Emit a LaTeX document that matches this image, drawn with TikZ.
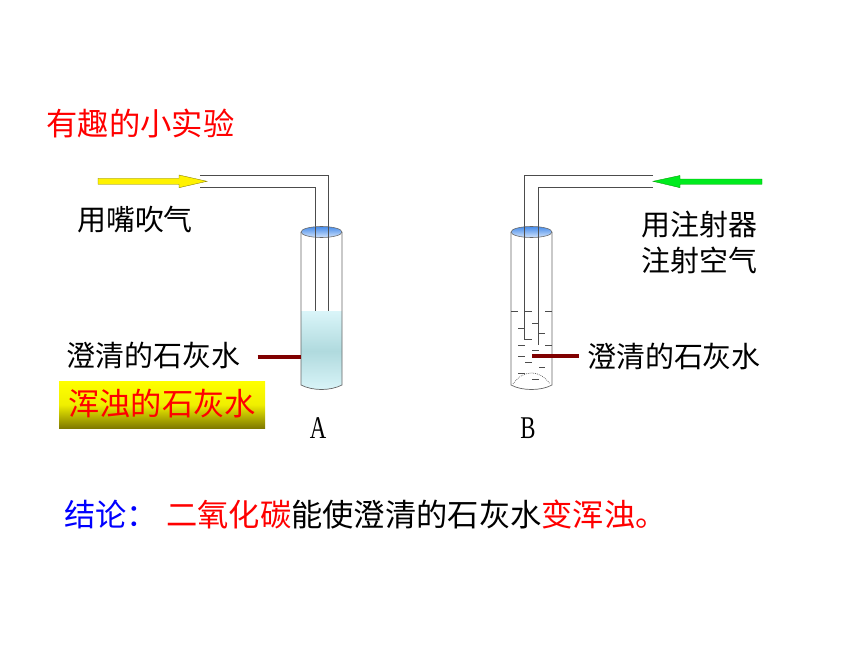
\documentclass[tikz,border=0pt]{standalone}
\usepackage{fontspec}
\setmainfont{Liberation Serif}
\newfontfamily\cjk{Noto Sans CJK SC}
\newfontfamily\narrowfont[FakeStretch=0.72]{Liberation Serif}
\usetikzlibrary{shadings}
\definecolor{liquid}{RGB}{218,245,249}
\definecolor{liquidmid}{RGB}{176,218,222}
\definecolor{darkred}{RGB}{128,0,0}
\definecolor{olivebar}{RGB}{128,122,0}
\definecolor{rimblue}{RGB}{70,140,235}
\definecolor{brightgreen}{RGB}{0,235,30}
\tikzset{
  lbl/.style={inner sep=0pt,font=\cjk\fontsize{24.7}{28}\selectfont},
  biglbl/.style={inner sep=0pt,font=\cjk\fontsize{26.7}{30}\selectfont},
  letter/.style={inner sep=0pt,font=\narrowfont\fontsize{27}{30}\selectfont},
  glass/.style={draw=black!60,line width=0.6pt},
  pipe/.style={draw=black!70,line width=0.7pt},
  pointer/.style={draw=darkred,line width=2.8pt},
  rim/.style={draw=black!60,line width=0.5pt,top color=rimblue,bottom color=rimblue!25}
}
\begin{document}
\begin{tikzpicture}[x=0.03cm,y=-0.03cm]
\useasboundingbox (0,0) rectangle (860,645);
\node[biglbl,red] (title) at (140.5,124) {有趣的小实验};
\node[lbl] (blow) at (135,220) {用嘴吹气};
\node[lbl] (inject) at (699.5,225) {用注射器};
\node[lbl] (injectb) at (699.5,260) {注射空气};
\node[lbl] (clearA) at (153.5,355) {澄清的石灰水};
\node[lbl] (clearB) at (674,356) {澄清的石灰水};
\shade[top color=yellow,bottom color=olivebar,middle color=yellow!88!olivebar] (59,381) rectangle (265,428);
\node[biglbl,red] (cloudy) at (162,404) {浑浊的石灰水};
\node[letter] (labA) at (318,428) {A};
\node[letter] (labB) at (528,428) {B};
\node[biglbl,blue,anchor=west] (concl) at (64,515) {结论：};
\node[biglbl,anchor=west] (result) at (166,515)
  {\textcolor{red}{二氧化碳}能使澄清的石灰水\textcolor{red}{变浑浊。}};

\coordinate (A) at (321.5,232);
\coordinate (B) at (531.5,232);
\shade[top color=liquid,bottom color=liquid,middle color=liquidmid]
  (301,311) -- (342,311) -- (342,385) .. controls (330,391) and (313,391) .. (301,385) -- cycle;
\draw[pipe] (200,175.7) -- (328.3,175.7) -- (328.3,311);
\draw[pipe] (200,187.3) -- (315,187.3) -- (315,311);
\draw[glass] (301,232) -- (301,385) .. controls (313,391) and (330,391) .. (342,385) -- (342,232);
\draw[rim] (A) ellipse (20.5 and 5.5);
\draw[pipe] (328.3,226.5) -- (328.3,237.5) (315,226.5) -- (315,237.5);
\fill[yellow,draw=olivebar,line width=0.3pt] (98,178.3) -- (179,178.3) -- (179,175) -- (207,181.3) -- (179,187.7) -- (179,184.3) -- (98,184.3) -- cycle;

\draw[pipe] (653,175.7) -- (524.7,175.7) -- (524.7,340);
\draw[pipe] (653,187.3) -- (538.7,187.3) -- (538.7,345);
\draw[glass] (511,232) -- (511,385) .. controls (522,391) and (541,391) .. (552,385) -- (552,232);
\draw[rim] (B) ellipse (20.5 and 5.5);
\draw[pipe] (524.7,226.5) -- (524.7,237.5) (538.7,226.5) -- (538.7,237.5);
\foreach \xa/\xb/\yy in {511/518/311,525/532/311,545/552/311,532/539/323,518/525/328,539/545/333,
  525/532/339,518/525/345,545/552/345,532/539/350,518/525/356,525/532/362,539/545/367,518/525/373,532/539/379}
  \draw[black!70,line width=0.8pt] (\xa,\yy) -- (\xb,\yy);
\draw[black!70,densely dotted,line width=0.6pt] (513,384) .. controls (518,377) and (524,373) .. (531,373) .. controls (539,373) and (545,377) .. (550,384);
\fill[brightgreen,draw=green!60!black,line width=0.3pt] (762,179) -- (680,179) -- (680,175.5) -- (653,181.3) -- (680,187.7) -- (680,184.3) -- (762,184.3) -- cycle;

\coordinate (endA) at (301,357);
\coordinate (startB) at (532,356);
\draw[pointer] (clearA.east) ++(17,2) -- (endA);
\draw[pointer] (startB) -- (579,356);
\end{tikzpicture}
\end{document}
